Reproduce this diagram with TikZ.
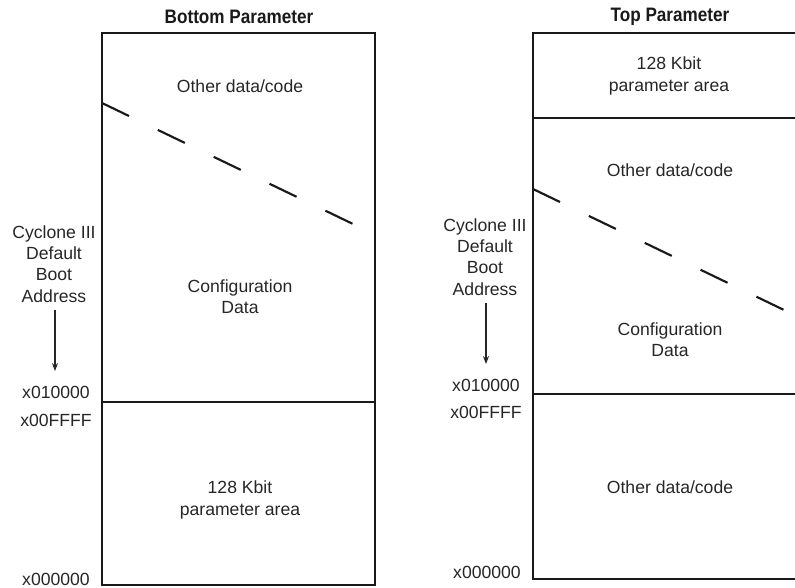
\documentclass[tikz,border=0pt]{standalone}
\usepackage{fontspec}
\setmainfont{Liberation Sans}
\usetikzlibrary{arrows.meta}
\tikzset{
  box/.style={draw=black!90, line width=1.6pt},
  sep/.style={draw=black!90, line width=1.6pt},
  dashln/.style={draw=black!90, line width=1.6pt, dash pattern=on 22.5pt off 24pt},
  lbl/.style={align=center, inner sep=0pt, font=\fontsize{13.2}{16}\selectfont, text=black!85},
  ttl/.style={inner sep=0pt, font=\fontsize{14.6}{17}\selectfont\bfseries, text=black!90},
  arr/.style={draw=black!85, line width=0.8pt, -{Stealth[length=6pt,width=4.5pt]}}
}
\begin{document}
\begin{tikzpicture}[x=0.75pt,y=-0.75pt]
\useasboundingbox (0,0) rectangle (795,588);
% ---------- left: Bottom Parameter ----------
\node[ttl] (tL) at (239,17) {\scalebox{0.88}[1]{Bottom Parameter}};
\coordinate (L1) at (102,33);
\coordinate (L2) at (375,585);
\draw[box] (L1) rectangle (L2);
\coordinate (Ld1) at (102,402);
\coordinate (Ld2) at (375,402);
\draw[sep] (Ld1) -- (Ld2);
\coordinate (Ls) at (102,103);
\coordinate (Le) at (353,224);
\draw[dashln] (Ls) -- (Le);
\node[lbl] (Lother) at (240,86) {Other data/code};
\node[lbl] (Lconf) at (240,297) {Configuration\\Data};
\node[lbl] (Lparam) at (240,500) {128 Kbit\\parameter area};
\node[lbl] (Lboot) at (54,264) {Cyclone III\\Default\\Boot\\Address};
\coordinate (La1) at (55,310);
\coordinate (La2) at (55,371);
\draw[arr] (La1) -- (La2);
\node[lbl] (La) at (56,392) {x010000};
\node[lbl] (Lb) at (56,420) {x00FFFF};
\node[lbl] (Lc) at (56,579) {x000000};
% ---------- right: Top Parameter ----------
\node[ttl] (tR) at (670,17) {\scalebox{0.88}[1]{Top Parameter}};
\coordinate (R1) at (533,33);
\coordinate (R2) at (806,579);
\draw[box] (R1) rectangle (R2);
\coordinate (Rd1) at (533,118);
\coordinate (Rd2) at (806,118);
\draw[sep] (Rd1) -- (Rd2);
\coordinate (Re1) at (533,394);
\coordinate (Re2) at (806,394);
\draw[sep] (Re1) -- (Re2);
\coordinate (Rs) at (533,189);
\coordinate (Re) at (784,310);
\draw[dashln] (Rs) -- (Re);
\node[lbl] (Rparam) at (669,76) {128 Kbit\\parameter area};
\node[lbl] (Rother) at (670,170) {Other data/code};
\node[lbl] (Rconf) at (670,340) {Configuration\\Data};
\node[lbl] (Rother2) at (670,487) {Other data/code};
\node[lbl] (Rboot) at (485,257) {Cyclone III\\Default\\Boot\\Address};
\coordinate (Ra1) at (486,303);
\coordinate (Ra2) at (486,364);
\draw[arr] (Ra1) -- (Ra2);
\node[lbl] (Ra) at (486,385) {x010000};
\node[lbl] (Rb) at (486,412) {x00FFFF};
\node[lbl] (Rc) at (487,572) {x000000};
\end{tikzpicture}
\end{document}
